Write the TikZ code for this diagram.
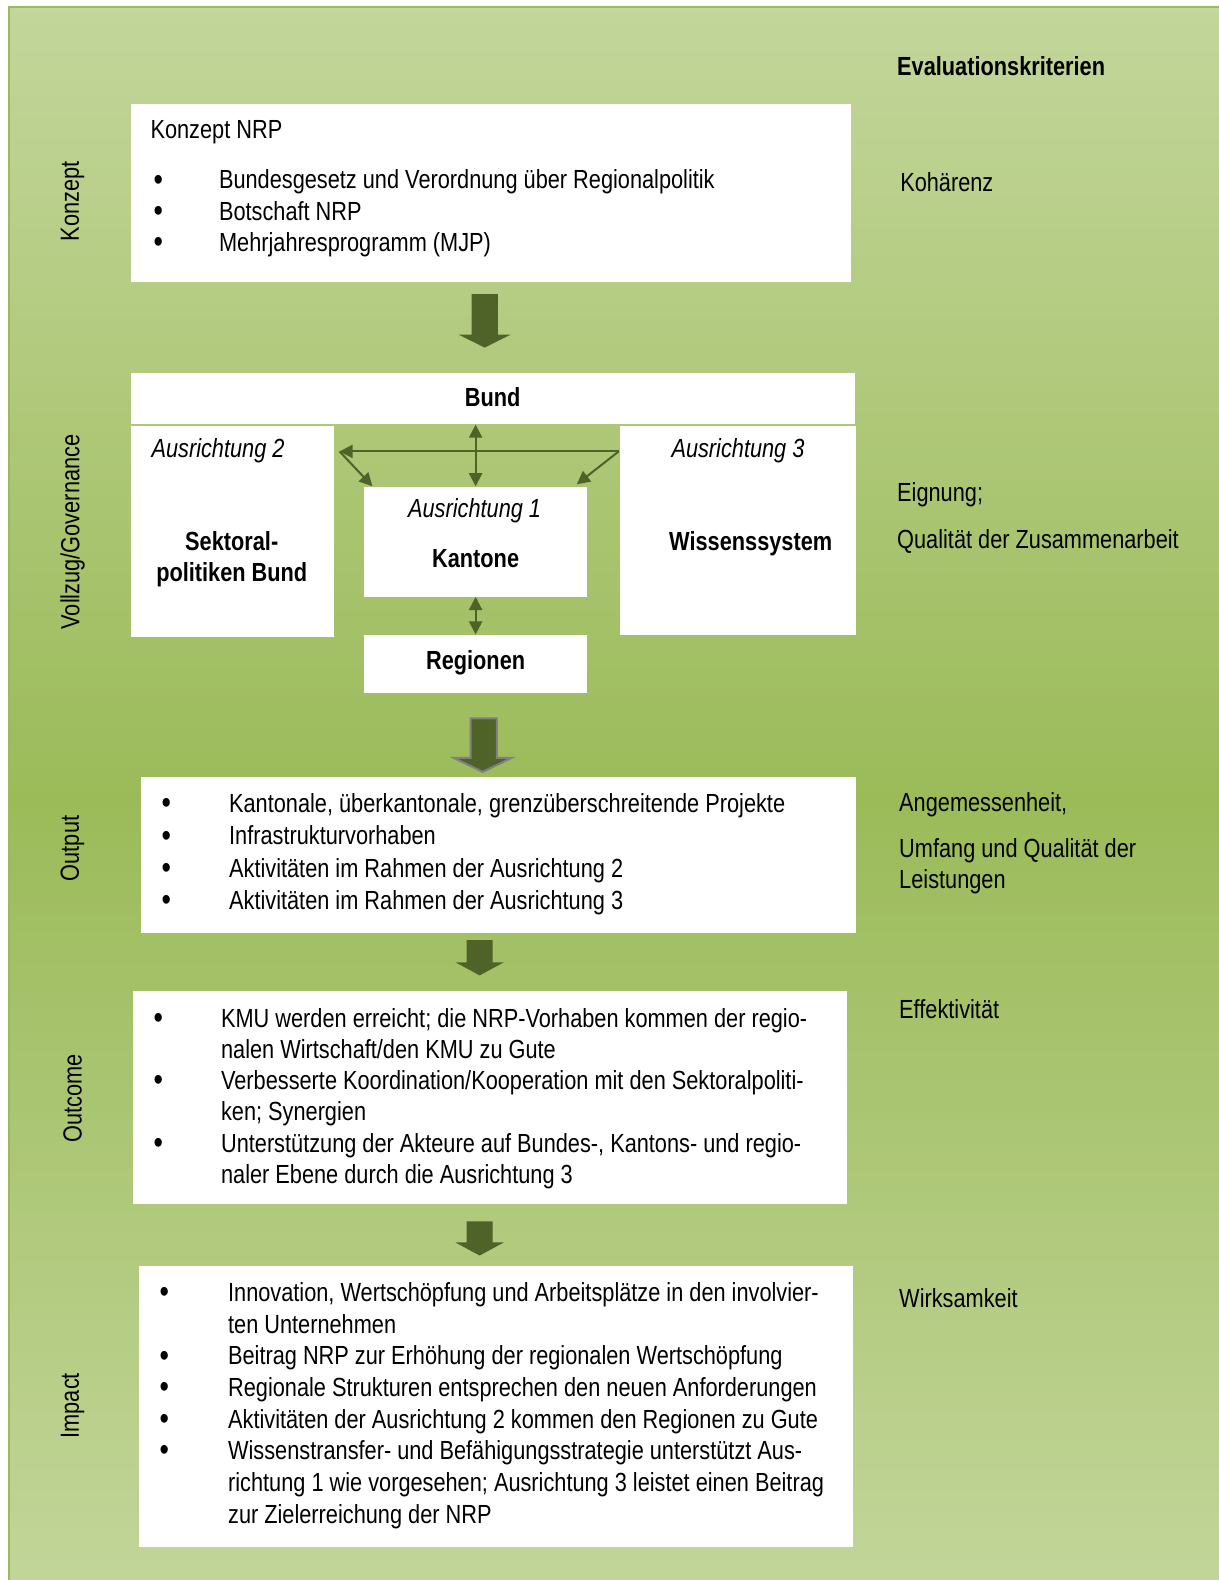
\documentclass[tikz,border=0pt]{standalone}
\usepackage{fontspec}
\setmainfont{Liberation Sans}[FakeStretch=0.83]
\usetikzlibrary{fit,arrows.meta}

\definecolor{paleGreen}{HTML}{C3D69B}
\definecolor{midGreen}{HTML}{9BBB59}
\definecolor{darkOlive}{HTML}{4F6228}

\tikzset{
  box/.style={fill=white, draw=none, inner sep=0pt},
  txt/.style={inner sep=0pt, font=\fontsize{13}{15.5}\selectfont},
  boldtxt/.style={txt, font=\fontsize{13}{15.5}\selectfont\bfseries},
  ittxt/.style={txt, font=\fontsize{13}{15.5}\selectfont\itshape},
  side/.style={txt, rotate=90},
  crit/.style={txt, anchor=base west},
  govarrow/.style={draw=darkOlive, line width=1pt, -{Triangle[length=6.5pt,width=6.5pt]}},
}

\newcommand{\bul}{\raisebox{-0.6pt}{\fontsize{16}{16}\selectfont\textbullet}}

\begin{document}
\begin{tikzpicture}[x=0.5pt,y=-0.5pt]

  % background (explicit pt, two halves)
  \shade[top color=paleGreen, bottom color=midGreen] (4.5pt,-3.5pt) rectangle (612pt,-396.5pt);
  \shade[top color=midGreen, bottom color=paleGreen] (4.5pt,-396.5pt) rectangle (612pt,-795pt);
  \draw[midGreen, line width=1.2pt] (9,1590) -- (9,7) -- (1225,7);

  % left column
  \node[side] (konzeptside) at (72,200) {Konzept};
  \node[side] (vollzugside) at (72,528) {Vollzug/Governance};
  \node[side] (outputside) at (72,842) {Output};
  \node[side] (outcomeside) at (72,1090) {Outcome};
  \node[side] (impactside) at (72,1395) {Impact};

  % Konzept
  \node[box, fit={(130,103) (845,280)}] (konzept) {};
  \node[txt, anchor=base west] (konzepttitle) at (149,137) {Konzept NRP};
  \node[txt, anchor=north west] (konzeptlist) at (152,165.3) {%
    \begin{tabular}{@{}p{32.5pt}@{}l@{}}
      \bul & Bundesgesetz und Verordnung über Regionalpolitik\\
      \bul & Botschaft NRP\\
      \bul & Mehrjahresprogramm (MJP)
    \end{tabular}};

  % Vollzug / Governance
  \node[box, fit={(130,370) (848,421)}] (bund) {};
  \node[boldtxt] (bundtxt) at (489,394) {Bund};
  \node[box, fit={(130,423) (331,632)}] (sektoral) {};
  \node[ittxt, anchor=base west] (ausr2) at (150,454) {Ausrichtung 2};
  \node[boldtxt, align=center] (sektoraltxt) at (230,555) {Sektoral-\\politiken Bund};
  \node[box, fit={(615,423) (849,630)}] (wissen) {};
  \node[ittxt, anchor=base west] (ausr3) at (666,454) {Ausrichtung 3};
  \node[boldtxt] (wissentxt) at (745,540) {Wissenssystem};
  \node[box, fit={(361,483) (583,592)}] (kantone) {};
  \node[ittxt] (ausr1) at (471,507) {Ausrichtung 1};
  \node[boldtxt] (kantonetxt) at (472,554) {Kantone};
  \node[box, fit={(361,630) (583,688)}] (regionen) {};
  \node[boldtxt] (regionentxt) at (472,658) {Regionen};

  \coordinate (hleft) at (337,448);
  \coordinate (hright) at (614,448);
  \draw[govarrow] (hright) -- (hleft);
  \draw[govarrow] (hleft) -- ([xshift=4.5pt]kantone.north west);
  \draw[govarrow] (hright) -- ([xshift=-5.5pt,yshift=1pt]kantone.north east);
  \draw[govarrow, {Triangle[length=6.5pt,width=6.5pt]}-{Triangle[length=6.5pt,width=6.5pt]}]
    (kantone.north |- bund.south) -- (kantone.north);
  \draw[govarrow, {Triangle[length=6.5pt,width=6.5pt]}-{Triangle[length=6.5pt,width=6.5pt]}]
    (kantone.south) -- (regionen.north);

  % Output
  \node[box, fit={(140,771) (849,926)}] (output) {};
  \node[txt, anchor=north west, font=\fontsize{13}{16}\selectfont] (outputlist) at (160,783.6) {%
    \begin{tabular}{@{}p{33.5pt}@{}l@{}}
      \bul & Kantonale, überkantonale, grenzüberschreitende Projekte\\
      \bul & Infrastrukturvorhaben\\
      \bul & Aktivitäten im Rahmen der Ausrichtung 2\\
      \bul & Aktivitäten im Rahmen der Ausrichtung 3
    \end{tabular}};

  % Outcome
  \node[box, fit={(132,983) (841,1195)}] (outcome) {};
  \node[txt, anchor=north west] (outcomelist) at (152,997.3) {%
    \begin{tabular}{@{}p{33.5pt}@{}l@{}}
      \bul & KMU werden erreicht; die NRP-Vorhaben kommen der regio-\\
           & nalen Wirtschaft/den KMU zu Gute\\
      \bul & Verbesserte Koordination/Kooperation mit den Sektoralpoliti-\\
           & ken; Synergien\\
      \bul & Unterstützung der Akteure auf Bundes-, Kantons- und regio-\\
           & naler Ebene durch die Ausrichtung 3
    \end{tabular}};

  % Impact
  \node[box, fit={(138,1256) (847,1535)}] (impact) {};
  \node[txt, anchor=north west, font=\fontsize{13}{15.7}\selectfont] (impactlist) at (158,1269.3) {%
    \begin{tabular}{@{}p{34pt}@{}l@{}}
      \bul & Innovation, Wertschöpfung und Arbeitsplätze in den involvier-\\
           & ten Unternehmen\\
      \bul & Beitrag NRP zur Erhöhung der regionalen Wertschöpfung\\
      \bul & Regionale Strukturen entsprechen den neuen Anforderungen\\
      \bul & Aktivitäten der Ausrichtung 2 kommen den Regionen zu Gute\\
      \bul & Wissenstransfer- und Befähigungsstrategie unterstützt Aus-\\
           & richtung 1 wie vorgesehen; Ausrichtung 3 leistet einen Beitrag\\
           & zur Zielerreichung der NRP
    \end{tabular}};

  % block arrows between the levels
  \foreach \xm/\ytop/\yhead/\ytip/\hw in {481/292/332/345/26, 476/933/955/968/24, 476/1212/1233/1246/24}
    \fill[darkOlive] (\xm-13,\ytop) -- (\xm+13,\ytop) -- (\xm+13,\yhead) -- (\xm+\hw,\yhead)
      -- (\xm,\ytip) -- (\xm-\hw,\yhead) -- (\xm-13,\yhead) -- cycle;
  \filldraw[fill=darkOlive, draw=gray, line width=1pt] (467,713) -- (493,713) -- (493,752) -- (508,752)
    -- (479,766) -- (450,752) -- (467,752) -- cycle;

  % evaluation criteria
  \node[boldtxt, anchor=base west] (evalhead) at (890,75) {Evaluationskriterien};
  \node[crit] (kohaerenz) at (893,190) {Kohärenz};
  \node[crit] (eignung) at (890,498) {Eignung;};
  \node[crit] (qualitaet) at (890,544) {Qualität der Zusammenarbeit};
  \node[crit] (angemessen) at (892,805) {Angemessenheit,};
  \node[crit] (umfang) at (892,851) {Umfang und Qualität der};
  \node[crit] (leistungen) at (892,882) {Leistungen};
  \node[crit] (effektiv) at (892,1011) {Effektivität};
  \node[crit] (wirksam) at (892,1298) {Wirksamkeit};

  \pgfresetboundingbox
  \useasboundingbox (0,0) rectangle (1209,1568);
\end{tikzpicture}
\end{document}
